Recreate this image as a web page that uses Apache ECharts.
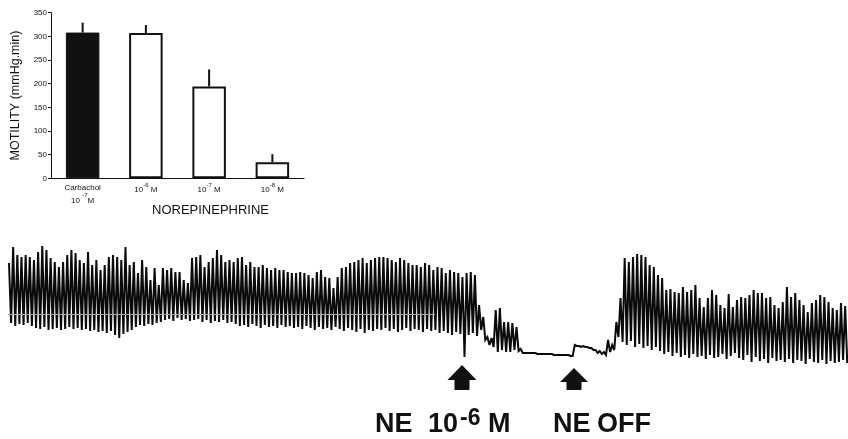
<!DOCTYPE html>
<html>
<head>
<meta charset="utf-8">
<script src="https://cdn.jsdelivr.net/npm/echarts@6/dist/echarts.min.js"></script>
<style>
  html, body { margin: 0; padding: 0; background: #ffffff; }
  #chart { width: 848px; height: 439px; }
</style>
</head>
<body>
<div id="chart"></div>
<script>
// ---- Bar panel: motility (mmHg.min), mean and SEM ----
const barAgents = ['Carbachol', 'Norepinephrine', 'Norepinephrine', 'Norepinephrine'];
const barExponents = ['-7', '-6', '-7', '-8'];
const barValues = [308, 307, 194, 34];
const barErrors = [21, 17, 36, 17];
const barCategories = barAgents.map((a, i) => a + ' 10^' + barExponents[i] + ' M');

// ---- Tracing: peak and trough of each contraction cycle (baseline = 0) ----
// Carbachol phase, then NE 10^-6 M (cycles 109..), wash-out and recovery.
const tracePeaks = [
  // carbachol alone
  54,70,62,60,62,60,57,65,71,67,59,55,50,55,62,67,64,57,54,65,52,57,47,52,60,62,60,57,70,52,55,44,57,50,
  37,49,32,49,47,49,45,45,37,34,59,60,62,50,55,59,67,62,55,57,55,59,60,52,55,50,50,52,49,47,49,47,47,45,44,
  44,45,44,42,39,45,47,40,39,29,40,49,50,54,55,57,59,54,57,59,60,60,59,57,55,59,57,54,52,52,50,54,52,47,50,
  49,44,47,45,44,40,44,45,42,
  // NE 10^-6 M: fading contractions and quiescence
  12,0,-20,-21,7,9,-5,-5,-6,-10,-32,
  -36,-36,-36,-37,-37,-37,-37,-38,-38,-38,-38,-39,
  // NE off: recovery
  -28,-29,-29,-30,-31,-33,-34,-35,-23,-28,
  -5,19,
  59,55,60,63,62,60,52,50,42,39,27,28,25,24,30,25,27,32,19,10,
  19,27,22,12,9,23,10,17,20,19,22,27,24,24,19,20,12,9,15,30,
  20,24,17,12,5,14,17,22,20,15,9,7,14,11
];
const traceTroughs = [
  -6,-9,-7,-8,-6,-9,-11,-12,-10,-13,-12,-11,-13,-12,-10,-12,-11,-13,-12,-14,-13,-15,-14,
  -16,-14,-18,-21,-17,-15,-13,-10,-8,-9,-7,-8,-6,-5,-3,-2,-4,-1,-3,-2,-4,-3,
  -2,-5,-3,-6,-4,-5,-3,-6,-5,-7,-9,-8,-10,-7,-9,-11,-8,-10,-9,-11,-8,-10,-9,-11,
  -10,-12,-9,-11,-13,-10,-12,-11,-13,-10,-12,-14,-11,-13,-15,-12,-16,-13,-14,-12,
  -13,-11,-14,-12,-15,-13,-11,-14,-12,-13,-15,-12,-14,-13,-16,
  -14,-16,-18,-15,-17,-40,-18,-16,-19,
  -13,-23,-28,-30,-35,-33,-35,-35,-33,-34,-36,
  -36,-36,-36,-37,-37,-37,-37,-38,-38,-38,-38,-39,
  -29,-30,-30,-31,-33,-36,-37,-38,-35,-33,
  -20,-25,-28,-24,-30,-27,-31,-29,-33,-30,
  -34,-37,-35,-39,-36,-40,-38,-41,-37,-40,
  -39,-42,-38,-41,-40,-37,-42,-39,-36,-41,
  -43,-38,-45,-40,-44,-42,-46,-41,-44,-43,
  -45,-42,-46,-43,-44,-47,-42,-45,-46,-43,-47,-44,-46,-45,-43,-46
];
const traceStart = 9;       // time of first cycle (chart time units)
const tracePeriod = 4.16;   // contraction period (chart time units)
const baselineLevel = 3;    // recorder reference line
const baselineSpan = [8, 435];
const neOnTime = 462;
const neOffTime = 574;

// zig-zag polyline: each cycle rises to its peak, then falls to its trough
const traceData = [];
tracePeaks.forEach((p, i) => {
  traceData.push([traceStart + i * tracePeriod, p]);
  traceData.push([traceStart + (i + 0.5) * tracePeriod, traceTroughs[i]]);
});

const FONT = 'Liberation Sans, Arial, Helvetica, sans-serif';
const INK = '#111111';

const chart = echarts.init(document.getElementById('chart'), null, { renderer: 'canvas' });

chart.setOption({
  animation: false,
  backgroundColor: '#ffffff',
  grid: [
    { left: 51, top: 12.7, width: 253, height: 165.6 },
    { left: 0, top: 240, width: 848, height: 130 }
  ],
  xAxis: [
    {
      gridIndex: 0,
      type: 'category',
      data: barCategories,
      axisLine: { lineStyle: { color: INK, width: 1 } },
      axisTick: { show: false },
      axisLabel: {
        interval: 0,
        margin: 4,
        color: INK,
        fontFamily: FONT,
        formatter: (v, idx) => {
          const e = barExponents[idx];
          if (idx === 0) return '{c|Carbachol}\n{m|10 }{s|' + e + '}{m|M}';
          return '{n|10}{s|' + e + '}{n| M}';
        },
        rich: {
          c: { fontSize: 8, lineHeight: 10, fontFamily: FONT, color: INK },
          n: { fontSize: 8, lineHeight: 14, fontFamily: FONT, color: INK },
          m: { fontSize: 8, lineHeight: 16, fontFamily: FONT, color: INK },
          s: { fontSize: 6, lineHeight: 6, verticalAlign: 'top', fontFamily: FONT, color: INK }
        }
      }
    },
    {
      gridIndex: 1,
      type: 'value',
      min: 0,
      max: 848,
      show: false
    }
  ],
  yAxis: [
    {
      gridIndex: 0,
      type: 'value',
      min: 0,
      max: 350,
      interval: 50,
      name: 'MOTILITY (mmHg.min)',
      nameLocation: 'middle',
      nameGap: 29,
      nameTextStyle: { fontSize: 12.5, fontFamily: FONT, color: INK },
      axisLine: { show: true, lineStyle: { color: INK, width: 1 } },
      axisTick: { show: true, length: 3, lineStyle: { color: INK } },
      splitLine: { show: false },
      axisLabel: { fontSize: 8, margin: 4, color: INK, fontFamily: FONT }
    },
    {
      gridIndex: 1,
      type: 'value',
      min: -53,
      max: 77,
      show: false
    }
  ],
  series: [
    {
      type: 'bar',
      xAxisIndex: 0,
      yAxisIndex: 0,
      barWidth: 33.5,
      data: barValues.map((v, i) => ({
        value: v,
        itemStyle: i === 0
          ? { color: INK, borderColor: INK, borderWidth: 1 }
          : { color: '#ffffff', borderColor: INK, borderWidth: 2 }
      })),
      z: 2
    },
    {
      type: 'custom',
      xAxisIndex: 0,
      yAxisIndex: 0,
      data: barValues.map((v, i) => [i, v, v + barErrors[i]]),
      renderItem: (params, api) => {
        const a = api.coord([api.value(0), api.value(1)]);
        const b = api.coord([api.value(0), api.value(2)]);
        return {
          type: 'line',
          shape: { x1: a[0], y1: a[1], x2: b[0], y2: b[1] },
          style: { stroke: INK, lineWidth: 2 }
        };
      },
      z: 3
    },
    {
      type: 'line',
      xAxisIndex: 1,
      yAxisIndex: 1,
      data: traceData,
      showSymbol: false,
      symbol: 'none',
      silent: true,
      lineStyle: { color: '#0a0a0a', width: 2, join: 'miter', miterLimit: 3 },
      markLine: {
        silent: true,
        symbol: 'none',
        label: { show: false },
        lineStyle: { color: '#a8a8a8', width: 1, type: 'solid' },
        data: [[
          { coord: [baselineSpan[0], baselineLevel] },
          { coord: [baselineSpan[1], baselineLevel] }
        ]]
      }
    }
  ]
});

// event arrows under the tracing, and the legends beneath them
function arrow(tipX, tipY, headH, stemH, headW) {
  const hw = headW / 2, sw = 7.5;
  return {
    type: 'polygon',
    shape: {
      points: [
        [tipX, tipY], [tipX + hw, tipY + headH], [tipX + sw, tipY + headH],
        [tipX + sw, tipY + headH + stemH], [tipX - sw, tipY + headH + stemH],
        [tipX - sw, tipY + headH], [tipX - hw, tipY + headH]
      ]
    },
    style: { fill: INK }
  };
}
const onX = chart.convertToPixel({ gridIndex: 1 }, [neOnTime, 0])[0];
const offX = chart.convertToPixel({ gridIndex: 1 }, [neOffTime, 0])[0];

function txt(x, y, s, size) {
  return {
    type: 'text',
    style: {
      x: x, y: y, text: s,
      font: 'bold ' + size + 'px ' + FONT,
      fill: INK,
      textAlign: 'left',
      textVerticalAlign: 'middle'
    }
  };
}

chart.setOption({
  graphic: [
    arrow(onX, 365, 15, 10, 29),
    arrow(offX, 368, 14, 8, 28),
    txt(375, 425, 'NE', 27),
    txt(428, 425, '10', 27),
    txt(460, 418.5, '-6', 23),
    txt(488, 425, 'M', 27),
    txt(553, 425, 'NE', 27),
    txt(597, 425, 'OFF', 27),
    {
      type: 'text',
      style: {
        x: 152, y: 210, text: 'NOREPINEPHRINE',
        font: '13px ' + FONT, fill: INK,
        textAlign: 'left', textVerticalAlign: 'middle'
      }
    }
  ]
});
</script>
</body>
</html>
